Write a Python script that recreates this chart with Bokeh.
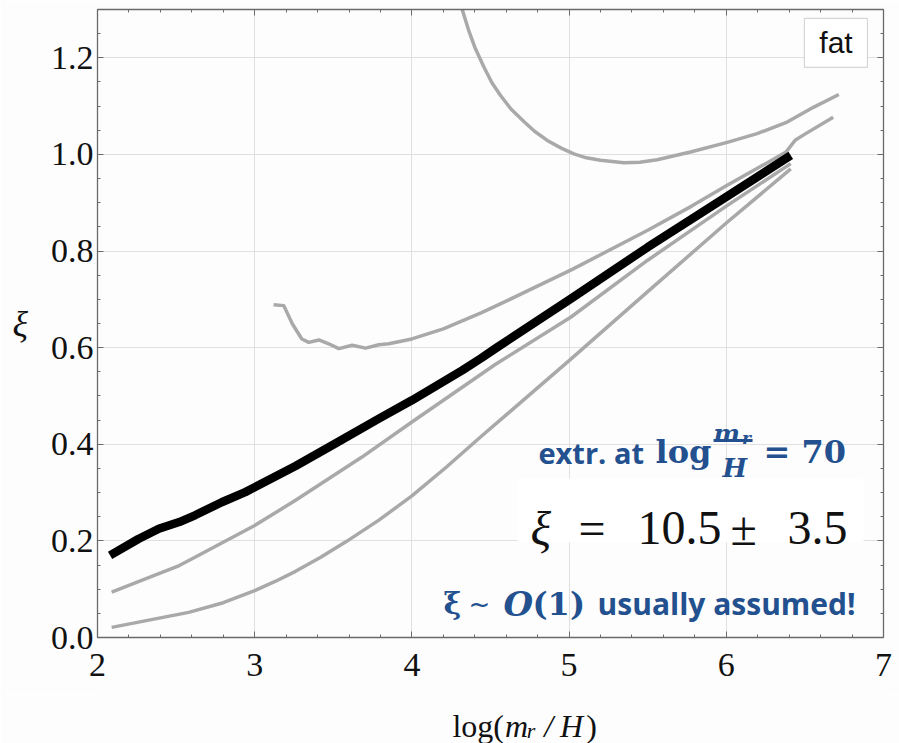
from bokeh.plotting import figure
from bokeh.layouts import column
from bokeh.models import (LinearAxis, FixedTicker, PrintfTickFormatter, Label,
                          BoxAnnotation, Range1d, Grid)
from bokeh.embed import file_html
from bokeh.resources import INLINE
import numpy as np

# --- correlation length xi versus log(m_r/H) -------------------------------
# thick black: reference run
thick_x = [2.08, 2.26, 2.39, 2.52, 2.62, 2.79, 2.94, 3.00, 3.26, 3.51, 3.79,
           4.00, 4.32, 4.44, 4.53, 5.01, 5.50, 6.00, 6.41]
thick_y = [0.170, 0.204, 0.225, 0.239, 0.253, 0.280, 0.301, 0.311, 0.355, 0.401,
           0.453, 0.491, 0.553, 0.578, 0.598, 0.701, 0.808, 0.912, 0.998]

# grey runs
low1_x = [2.09, 2.52, 2.62, 3.00, 3.26, 3.68, 4.00, 4.44, 4.53, 5.01, 5.50, 6.00, 6.41]
low1_y = [0.094, 0.149, 0.166, 0.232, 0.284, 0.373, 0.446, 0.545, 0.565, 0.663,
          0.781, 0.893, 0.981]

low2_x = [2.09, 2.58, 2.80, 3.00, 3.13, 3.26, 3.42, 3.58, 3.79, 4.00, 4.22, 4.44,
          5.00, 5.50, 6.00, 6.41]
low2_y = [0.021, 0.052, 0.072, 0.097, 0.116, 0.137, 0.166, 0.198, 0.243, 0.293,
          0.353, 0.416, 0.573, 0.716, 0.858, 0.970]

mid_x = [3.12, 3.185, 3.24, 3.30, 3.344, 3.408, 3.471, 3.535, 3.62, 3.705, 3.79,
         3.853, 4.00, 4.20, 4.44, 4.61, 5.02, 5.50, 5.78, 6.00, 6.30, 6.38, 6.44,
         6.50, 6.68]
mid_y = [0.689, 0.687, 0.649, 0.618, 0.611, 0.616, 0.608, 0.598, 0.605, 0.599, 0.606,
         0.608, 0.618, 0.639, 0.672, 0.698, 0.762, 0.843, 0.893, 0.935, 0.990, 1.005,
         1.030, 1.042, 1.077]

top_x = [4.32, 4.36, 4.40, 4.458, 4.51, 4.564, 4.63, 4.712, 4.78, 4.861, 4.95, 5.03,
         5.11, 5.20, 5.348, 5.45, 5.56, 5.772, 6.006, 6.196, 6.387, 6.557, 6.716]
top_y = [1.300, 1.258, 1.222, 1.181, 1.148, 1.122, 1.094, 1.068, 1.048, 1.029, 1.013,
         1.001, 0.993, 0.988, 0.983, 0.984, 0.989, 1.005, 1.025, 1.043, 1.067, 1.098,
         1.124]

x_ticks = [2, 3, 4, 5, 6, 7]
y_ticks = [0.0, 0.2, 0.4, 0.6, 0.8, 1.0, 1.2]

BLUE = "#23508e"
GREY = "#a9a9a9"
INK = "#111111"
BG = "#fdfdfd"

p = figure(width=899, height=695, output_backend="svg", toolbar_location=None,
           x_range=Range1d(2, 7), y_range=Range1d(0, 1.3),
           x_axis_type=None, y_axis_type=None,
           min_border_left=97, min_border_right=16, min_border_top=9,
           min_border_bottom=58,
           background_fill_color=BG, border_fill_color=BG)
p.outline_line_color = None

x_minor = [round(v, 2) for v in np.arange(2.0, 7.001, 0.2)]
y_minor = [round(v, 2) for v in np.arange(0.0, 1.301, 0.05)]
x_ticker = FixedTicker(ticks=x_ticks, minor_ticks=x_minor)
y_ticker = FixedTicker(ticks=y_ticks, minor_ticks=y_minor)


def frame_axis(ticker, fmt, labelled, standoff):
    return LinearAxis(ticker=ticker, formatter=PrintfTickFormatter(format=fmt),
                      axis_line_color="#6a6a6a", axis_line_width=1.3,
                      major_tick_in=6, major_tick_out=0,
                      minor_tick_in=3, minor_tick_out=0,
                      major_tick_line_color="#6a6a6a", minor_tick_line_color="#6a6a6a",
                      major_label_standoff=standoff,
                      major_label_text_font="Liberation Serif",
                      major_label_text_color=INK if labelled else None,
                      major_label_text_font_size="34px" if labelled else "0px")


bottom = frame_axis(x_ticker, "%d", True, 16)
left = frame_axis(y_ticker, "%.1f", True, 4)
left.axis_label = "ξ"
left.axis_label_orientation = "horizontal"
left.axis_label_standoff = 20
left.axis_label_text_font = "Liberation Serif"
left.axis_label_text_font_style = "italic"
left.axis_label_text_font_size = "36px"
left.axis_label_text_color = INK
p.add_layout(bottom, "below")
p.add_layout(left, "left")
p.add_layout(frame_axis(x_ticker, "%d", False, 0), "above")
p.add_layout(frame_axis(y_ticker, "%.1f", False, 0), "right")

p.add_layout(Grid(dimension=0, ticker=x_ticker, grid_line_color="#e0e0e0"))
p.add_layout(Grid(dimension=1, ticker=y_ticker, grid_line_color="#e0e0e0"))

# curves
for xs, ys in [(top_x, top_y), (mid_x, mid_y), (low1_x, low1_y), (low2_x, low2_y)]:
    p.line(xs, ys, line_color=GREY, line_width=3.5, line_join="round")
p.line(thick_x, thick_y, line_color="black", line_width=8.5, line_join="round")


def label(fig, x, y, text, font, size, style="normal", color=BLUE, align="left",
          baseline="alphabetic"):
    fig.add_layout(Label(x=x, y=y, text=text, text_font=font,
                         text_font_size=f"{size}px", text_font_style=style,
                         text_color=color, text_align=align, text_baseline=baseline))


# extrapolation note
label(p, 4.805, 0.383, "extr. at", "Open Sans", 29, "bold")
label(p, 5.550, 0.383, "log", "DejaVu Serif", 32, "bold")
label(p, 5.919, 0.422, "m", "DejaVu Serif", 25, "bold italic")
label(p, 6.100, 0.414, "r", "DejaVu Serif", 17, "bold italic")
p.segment(x0=[5.919], y0=[0.408], x1=[6.167], y1=[0.408], line_color=BLUE, line_width=3)
label(p, 5.976, 0.350, "H", "DejaVu Serif", 26, "bold italic")
label(p, 6.237, 0.383, "= 70", "DejaVu Serif", 32, "bold")

# extrapolated value
p.add_layout(BoxAnnotation(left=4.672, right=6.873, bottom=0.197, top=0.329,
                           fill_color="white", fill_alpha=1.0, line_color=None))
label(p, 4.754, 0.226, "ξ", "Liberation Serif", 48, "italic", color=INK)
label(p, 5.060, 0.226, "=", "Liberation Serif", 48, color=INK)
label(p, 5.435, 0.226, "10.5", "Liberation Serif", 48, color=INK)
label(p, 6.027, 0.226, "±", "Liberation Serif", 48, color=INK)
label(p, 6.389, 0.226, "3.5", "Liberation Serif", 48, color=INK)

# usual assumption
label(p, 4.201, 0.070, "ξ", "DejaVu Serif", 30, "bold")
label(p, 4.360, 0.070, "~", "DejaVu Sans", 26)
label(p, 4.583, 0.070, "O", "DejaVu Serif", 34, "bold italic")
label(p, 4.767, 0.070, "(1)", "DejaVu Serif", 32, "bold")
label(p, 5.181, 0.070, "usually assumed!", "Open Sans", 30, "bold")

# legend tag
p.add_layout(BoxAnnotation(left=6.497, right=6.898, bottom=1.180, top=1.2816,
                           fill_color="white", fill_alpha=1.0,
                           line_color="#7a7a7a", line_width=1.2))
label(p, 6.698, 1.231, "fat", "Liberation Sans", 30, color=INK,
      align="center", baseline="middle")

# x-axis title strip, composed piecewise so that m, r and H are italic
xt = figure(width=899, height=48, output_backend="svg", toolbar_location=None,
            x_range=Range1d(0, 899), y_range=Range1d(0, 48),
            x_axis_type=None, y_axis_type=None, min_border=0,
            background_fill_color=BG, border_fill_color=BG)
xt.outline_line_color = None
xt.xgrid.visible = False
xt.ygrid.visible = False
label(xt, 406, 18, "log(", "Liberation Serif", 32, color=INK)
label(xt, 466, 18, "m", "Liberation Serif", 32, "italic", color=INK)
label(xt, 491, 13, "r", "Liberation Serif", 22, "italic", color=INK)
label(xt, 511, 18, "/", "Liberation Serif", 32, "italic", color=INK)
label(xt, 529, 18, "H", "Liberation Serif", 32, "italic", color=INK)
label(xt, 559, 18, ")", "Liberation Serif", 32, color=INK)

open("out.html", "w").write(file_html(column(p, xt), INLINE))
